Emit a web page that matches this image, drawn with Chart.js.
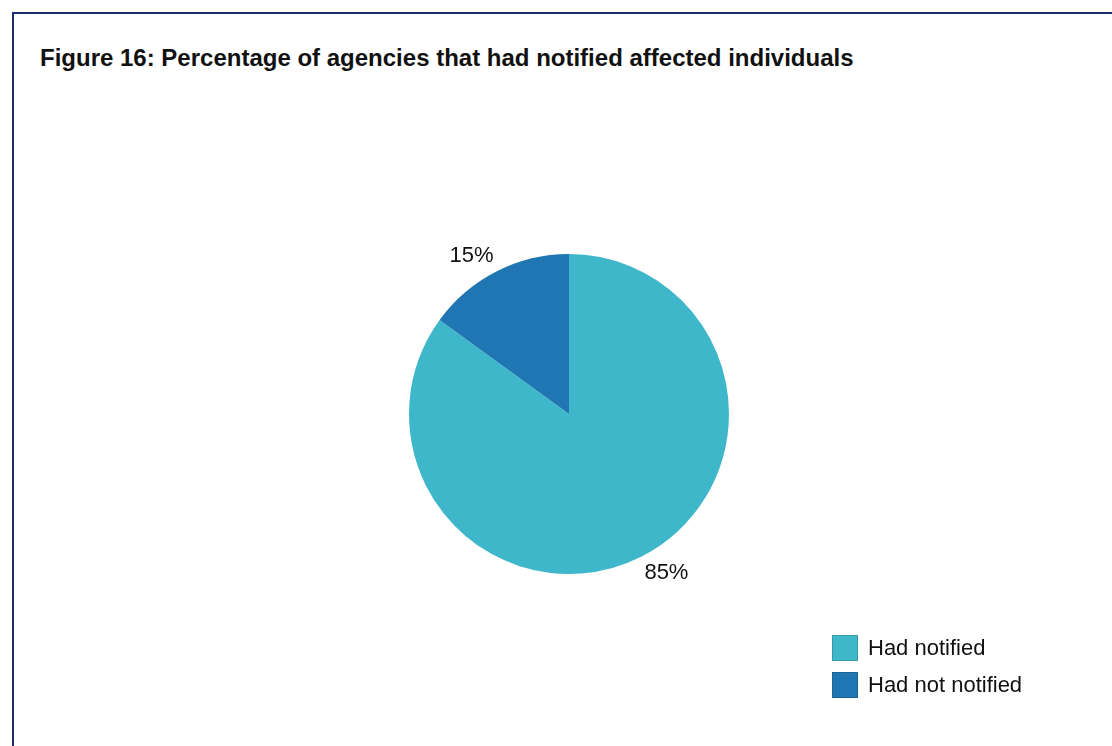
<!DOCTYPE html>
<html>
<head>
<meta charset="utf-8">
<script src="https://cdn.jsdelivr.net/npm/chart.js@4"></script>
<style>
  html, body { margin: 0; padding: 0; background: #fff; }
  body { width: 1112px; height: 746px; position: relative; overflow: hidden; font-family: "Liberation Sans", Arial, sans-serif; }
  .frame { position: absolute; left: 12px; top: 12px; right: -10px; bottom: -10px; border-left: 2px solid #1b2d6b; border-top: 2px solid #1b2d6b; }
  .title { position: absolute; left: 40px; top: 44px; font-weight: bold; font-size: 24px; color: #111; white-space: nowrap; }
  #wrap { position: absolute; left: 0; top: 0; width: 1112px; height: 746px; }
  .legend { position: absolute; left: 832px; top: 635px; }
  .legend div { height: 26px; margin-bottom: 11px; display: flex; align-items: center; font-size: 22px; color: #111; }
  .legend span { display: inline-block; width: 26px; height: 26px; margin-right: 10px; box-sizing: border-box; border: 1px solid rgba(0,0,0,0.15); }
</style>
</head>
<body>
<div class="frame"></div>
<div class="title">Figure 16: Percentage of agencies that had notified affected individuals</div>
<div id="wrap"><canvas id="myChart"></canvas></div>
<div class="legend" id="legend"></div>
<script>
const labels = ['Had notified', 'Had not notified'];
const values = [85, 15];
const colors = ['#3fb7cb', '#1f76b2'];

// percent labels sit outside the pie, a bit past the rim
const outsideLabels = {
  id: 'outsideLabels',
  afterDraw(chart) {
    const ctx = chart.ctx;
    const meta = chart.getDatasetMeta(0);
    const total = values.reduce((a, b) => a + b, 0);
    ctx.save();
    ctx.font = '22px "Liberation Sans", Arial, sans-serif';
    ctx.fillStyle = '#111';
    ctx.textAlign = 'center';
    ctx.textBaseline = 'middle';
    meta.data.forEach((arc, i) => {
      const mid = (arc.startAngle + arc.endAngle) / 2 - 0.08;
      const d = arc.outerRadius + 26;
      const x = arc.x + Math.cos(mid) * d;
      const y = arc.y + Math.sin(mid) * d;
      ctx.fillText(Math.round(values[i] / total * 100) + '%', x, y);
    });
    ctx.restore();
  }
};

const dataConfig = {
  labels: labels,
  datasets: [{
    data: values,
    backgroundColor: colors,
    borderWidth: 0
  }]
};

const config = {
  type: 'pie',
  data: dataConfig,
  options: {
    responsive: true,
    maintainAspectRatio: false,
    animation: false,
    layout: {
      padding: { left: 409, right: 383, top: 254, bottom: 172 }
    },
    plugins: {
      legend: { display: false },
      tooltip: { enabled: false }
    }
  },
  plugins: [outsideLabels]
};

const myChart = new Chart(document.getElementById('myChart'), config);

document.getElementById('legend').innerHTML = labels
  .map((l, i) => `<div><span style="background:${colors[i]}"></span>${l}</div>`)
  .join('');
</script>
</body>
</html>
